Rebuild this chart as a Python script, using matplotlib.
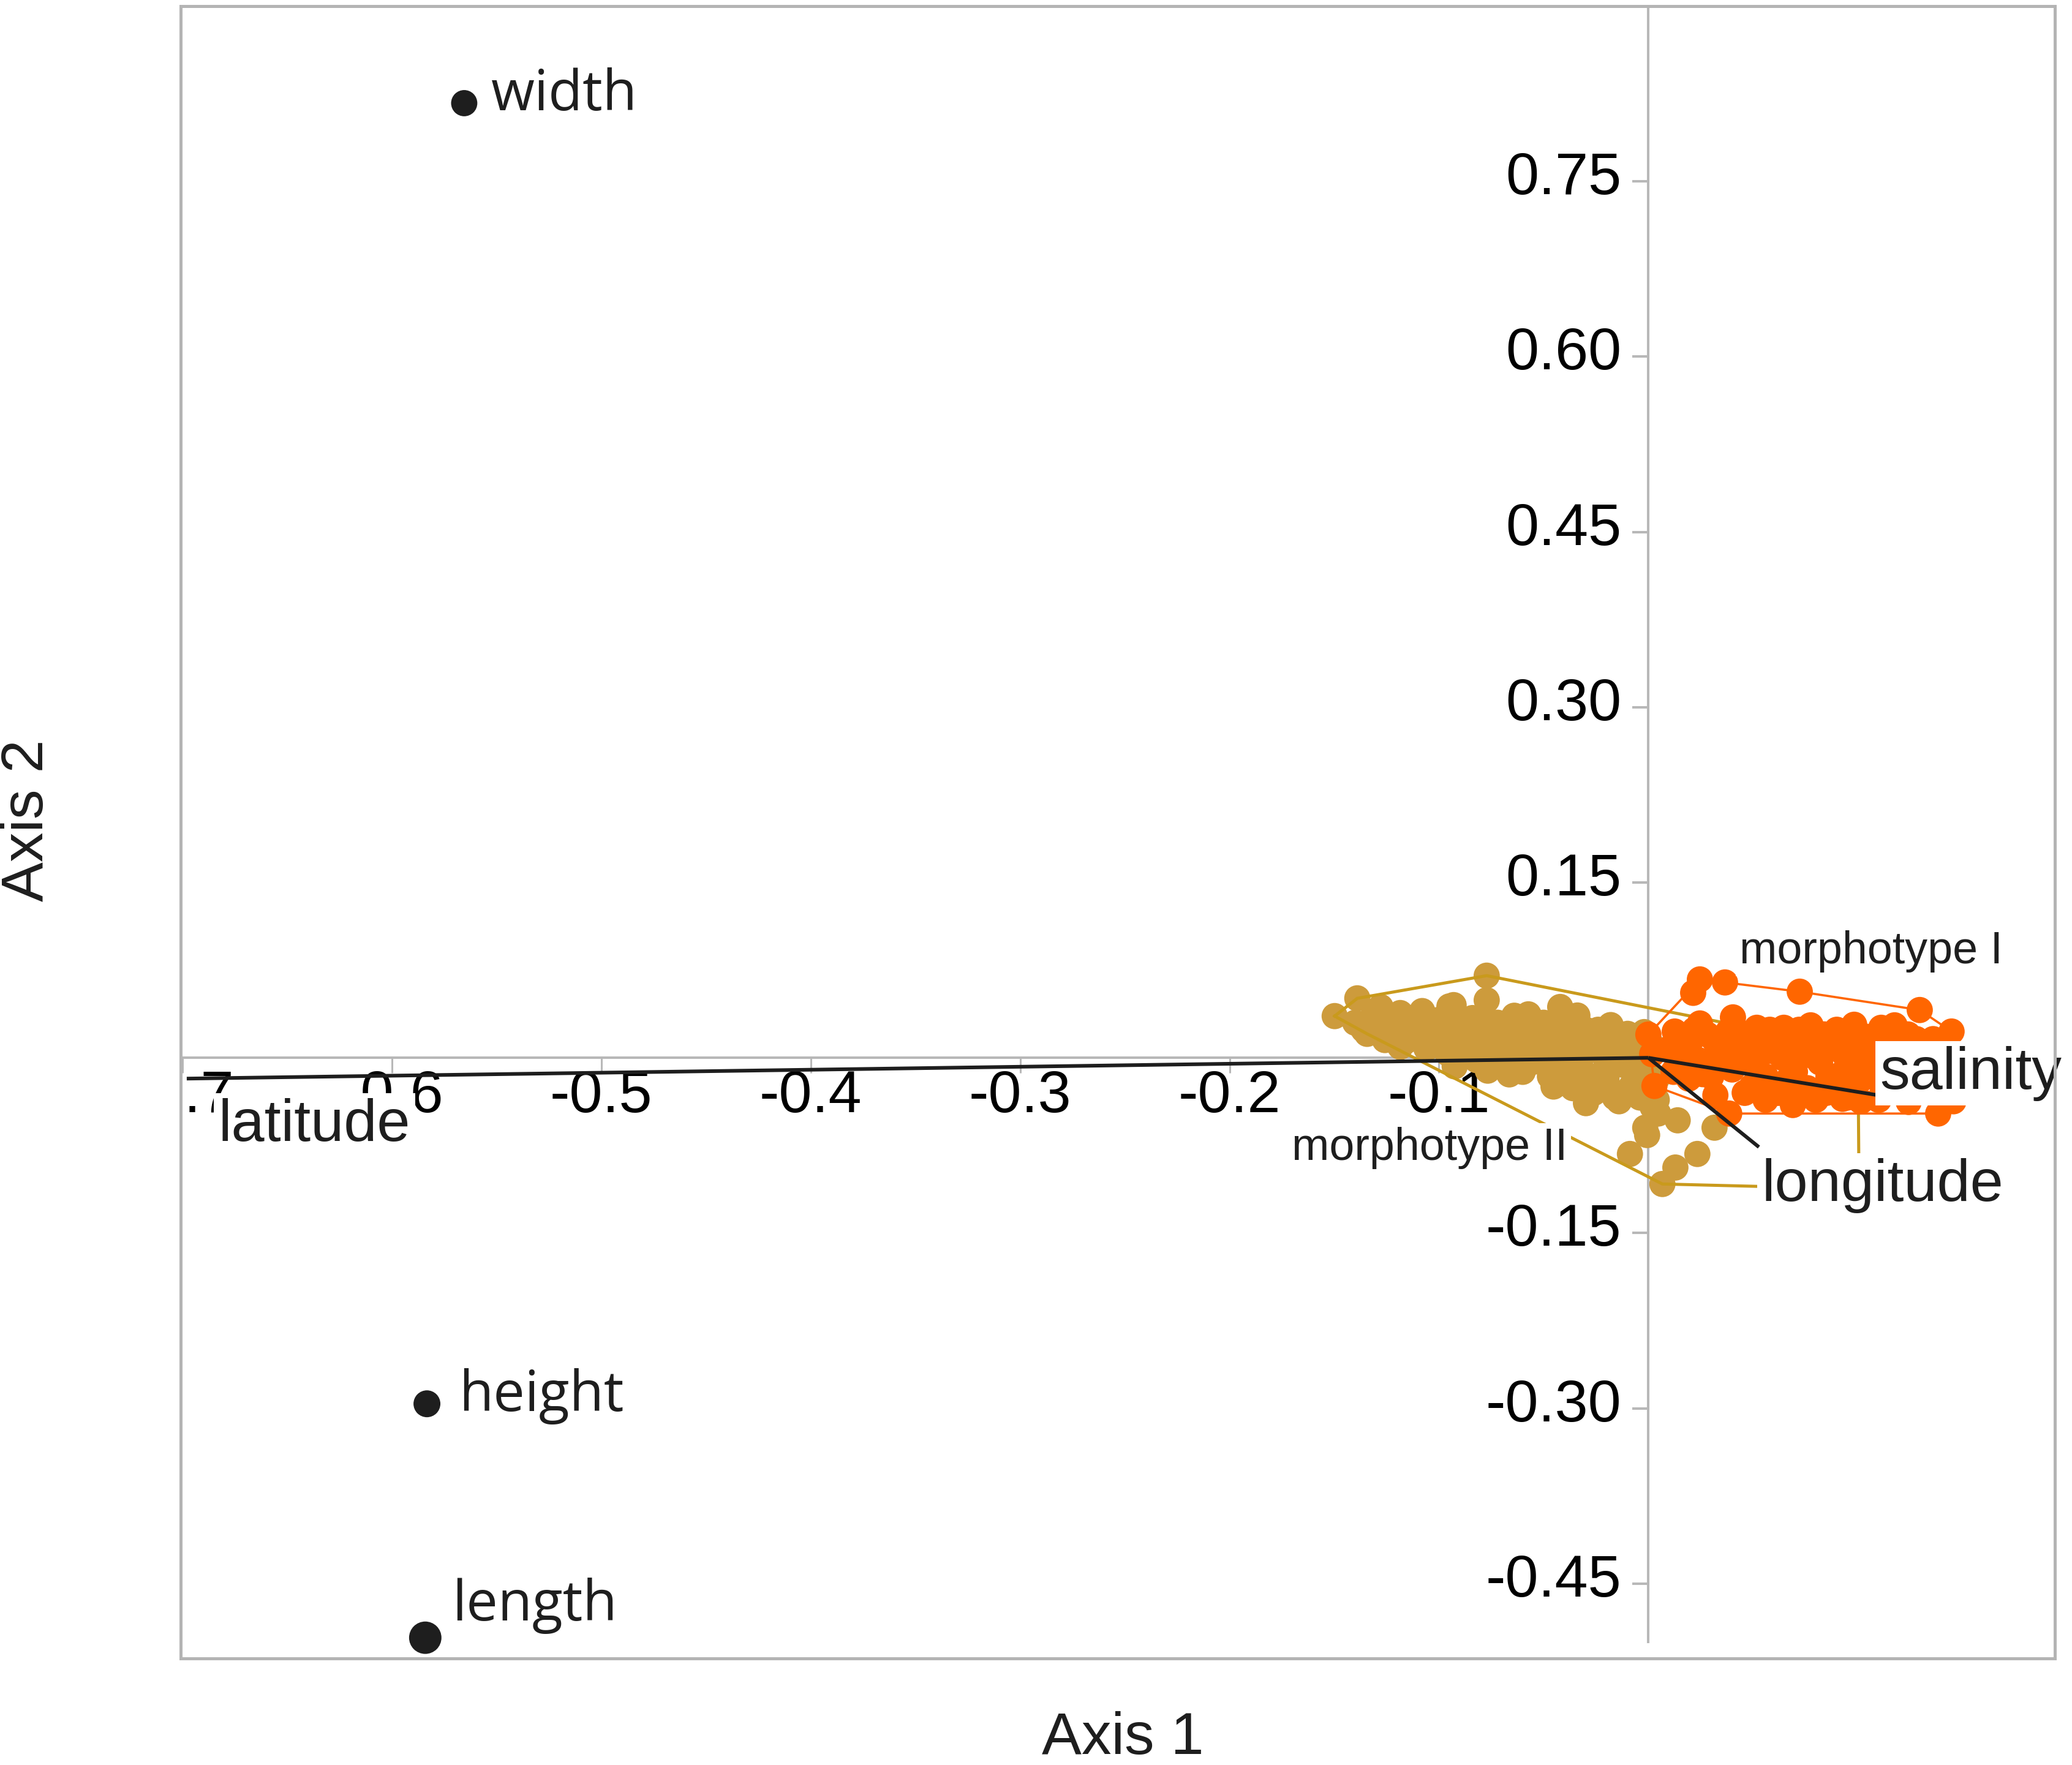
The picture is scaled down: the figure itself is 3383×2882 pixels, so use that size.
import matplotlib.pyplot as plt
import numpy as np
from matplotlib.transforms import ScaledTranslation

plt.rcParams['font.family'] = ['Liberation Sans', 'DejaVu Sans']

# ---------------------------------------------------------------------------
# data (Axis 1, Axis 2)
# ---------------------------------------------------------------------------
morph2_pts = [  # morphotype II (tan)
    (-0.1498, 0.0357), (-0.1390, 0.0509), (-0.0772, 0.0703), (-0.0772, 0.0493),
    (-0.0930, 0.0451), (-0.1279, 0.0435), (-0.1185, 0.0383), (-0.1077, 0.0362),
    (-0.1343, 0.0205), (-0.1258, 0.0152), (-0.1185, 0.0094), (-0.0799, 0.0346),
    (-0.0573, 0.0372), (-0.0421, 0.0435), (-0.0339, 0.0362), (-0.0193, 0.0241),
    (-0.0099, 0.0205), (-0.0925, -0.0073), (-0.0767, -0.0110), (-0.0664, -0.0142),
    (-0.0453, -0.0246), (-0.0298, -0.0388), (-0.0140, -0.0372), (-0.0015, -0.0598),
    (-0.0088, -0.0823), (0.0067, -0.1080), (-0.0006, -0.0661), (0.0140, -0.0535),
    (0.0047, -0.0477), (0.0316, -0.0598), (0.0234, -0.0823), (0.0129, -0.0939),
    (0.1006, -0.1122), (0.1001, 0.0073),
    (-0.140, 0.030), (-0.132, 0.034), (-0.125, 0.028), (-0.118, 0.024),
    (-0.112, 0.030), (-0.110, 0.018), (-0.104, 0.026), (-0.100, 0.012),
    (-0.098, 0.034), (-0.094, 0.022), (-0.090, 0.006), (-0.088, 0.030),
    (-0.085, 0.015), (-0.082, -0.002), (-0.080, 0.024), (-0.076, 0.008),
    (-0.072, 0.030), (-0.070, 0.016), (-0.068, -0.004), (-0.065, 0.026),
    (-0.062, 0.008), (-0.060, -0.012), (-0.058, 0.020), (-0.055, 0.032),
    (-0.052, 0.000), (-0.050, 0.014), (-0.047, -0.016), (-0.045, 0.026),
    (-0.042, 0.006), (-0.040, -0.008), (-0.038, 0.018), (-0.036, -0.026),
    (-0.034, 0.030), (-0.032, 0.000), (-0.030, -0.014), (-0.028, 0.014),
    (-0.026, -0.030), (-0.024, 0.024), (-0.022, 0.004), (-0.020, -0.018),
    (-0.018, 0.012), (-0.016, -0.034), (-0.014, 0.020), (-0.012, -0.006),
    (-0.010, 0.008), (-0.008, -0.024), (-0.006, 0.014), (-0.004, -0.012),
    (-0.002, 0.002), (0.000, -0.030), (0.002, -0.042), (-0.108, 0.040),
    (-0.095, 0.044), (-0.120, 0.036),
    (-0.136, 0.024), (-0.128, 0.022), (-0.122, 0.018), (-0.116, 0.014),
    (-0.106, 0.008), (-0.102, 0.032), (-0.096, 0.004), (-0.092, 0.036),
    (-0.086, 0.004), (-0.084, 0.034), (-0.078, -0.004), (-0.074, 0.018),
    (-0.066, 0.006), (-0.064, 0.036), (-0.060, 0.030), (-0.056, -0.004),
    (-0.054, 0.010), (-0.050, 0.030), (-0.048, -0.008), (-0.044, 0.016),
    (-0.040, 0.030), (-0.038, -0.018), (-0.034, 0.008), (-0.030, 0.024),
    (-0.028, -0.024), (-0.024, 0.012), (-0.020, -0.006), (-0.018, 0.028),
    (-0.012, -0.030), (-0.010, 0.018), (-0.006, 0.000), (-0.004, -0.034),
    (-0.002, 0.022), (0.002, 0.010), (0.004, -0.018), (0.004, -0.036),
]

morph1_pts = [  # morphotype I (orange)
    (0.0246, 0.0671), (0.0366, 0.0645), (0.0214, 0.0556), (0.0723, 0.0566),
    (0.1296, 0.0409), (0.1448, 0.0225), (0.1176, 0.0278), (0.1112, 0.0257),
    (0.0983, 0.0283), (0.0126, 0.0225), (0.0246, 0.0294), (0.0404, 0.0346),
    (0.0518, 0.0257), (0.0647, 0.0257), (0.0775, 0.0278), (0.0863, 0.0189),
    (0.0018, 0.0031), (0.0193, -0.0178), (0.0494, -0.0246), (0.0690, -0.0404),
    (0.0927, -0.0351), (0.1015, -0.0372), (0.1243, -0.0378), (0.1384, -0.0477),
    (0.1457, -0.0372), (0.0386, -0.0477), (0.1498, -0.0073), (0.0029, -0.0241),
    (0.0000, 0.0199),
    (0.010, 0.008), (0.015, -0.006), (0.020, 0.014), (0.024, -0.002),
    (0.028, 0.020), (0.030, -0.016), (0.034, 0.006), (0.038, 0.022),
    (0.040, -0.010), (0.044, 0.012), (0.048, -0.004), (0.050, 0.020),
    (0.054, 0.004), (0.056, -0.016), (0.060, 0.014), (0.062, -0.030),
    (0.064, 0.000), (0.068, 0.020), (0.070, -0.012), (0.074, 0.008),
    (0.076, -0.026), (0.080, 0.016), (0.082, -0.004), (0.085, -0.030),
    (0.088, 0.008), (0.090, 0.024), (0.092, -0.014), (0.096, 0.012),
    (0.098, -0.024), (0.100, 0.000), (0.104, 0.018), (0.106, -0.010),
    (0.110, 0.006), (0.112, -0.026), (0.116, 0.014), (0.118, -0.006),
    (0.122, 0.004), (0.126, -0.016), (0.128, 0.016), (0.132, -0.028),
    (0.134, 0.002), (0.138, -0.010), (0.140, 0.010), (0.144, -0.024),
    (0.146, 0.004),
    (0.012, -0.012), (0.018, 0.004), (0.022, 0.024), (0.026, -0.014),
    (0.032, 0.014), (0.036, -0.004), (0.042, 0.024), (0.046, 0.002),
    (0.052, -0.012), (0.058, 0.006), (0.058, 0.024), (0.066, -0.020),
    (0.072, 0.024), (0.078, 0.002), (0.084, 0.020), (0.086, -0.016),
    (0.094, 0.002), (0.100, 0.020), (0.102, -0.018), (0.108, -0.002),
    (0.114, 0.020), (0.120, -0.018), (0.124, 0.020), (0.130, -0.006),
    (0.136, 0.016), (0.142, -0.002), (0.046, -0.030), (0.056, -0.036),
    (0.080, -0.036), (0.110, -0.036), (0.032, -0.032), (0.070, -0.030),
    (0.095, -0.034),
]

# shell measurements (plotted as points)
var_names = ['width', 'height', 'length']
var_x = [-0.5655, -0.5833, -0.5841]
var_y = [0.8170, -0.2961, -0.4963]
var_size = [950, 1000, 1450]

# environmental vectors
vec_names = ['latitude', 'salinity', 'longitude']
vec_x = [-0.698, 0.1209, 0.0528]
vec_y = [-0.0178, -0.0353, -0.0764]

group_names = ['morphotype I', 'morphotype II']
group_label_x = [0.0436, -0.1703]
group_label_y = [0.0808, -0.0876]

x_ticks = [-0.7, -0.6, -0.5, -0.4, -0.3, -0.2, -0.1]
x_tick_labels = ['-0.7', '-0.6', '-0.5', '-0.4', '-0.3', '-0.2', '-0.1']
y_ticks = [0.75, 0.60, 0.45, 0.30, 0.15, -0.15, -0.30, -0.45]
y_tick_labels = ['0.75', '0.60', '0.45', '0.30', '0.15', '-0.15', '-0.30', '-0.45']


def convex_hull(pts):
    pts = sorted(set(pts))

    def cross(o, a, b):
        return (a[0] - o[0]) * (b[1] - o[1]) - (a[1] - o[1]) * (b[0] - o[0])

    lower, upper = [], []
    for p in pts:
        while len(lower) >= 2 and cross(lower[-2], lower[-1], p) <= 0:
            lower.pop()
        lower.append(p)
    for p in reversed(pts):
        while len(upper) >= 2 and cross(upper[-2], upper[-1], p) <= 0:
            upper.pop()
        upper.append(p)
    h = lower[:-1] + upper[:-1]
    h.append(h[0])
    return np.array(h)


fig = plt.figure(figsize=(33.83, 28.82), dpi=100)
ax = fig.add_axes([0.0871, 0.0604, 0.9045, 0.9361])
ax.set_xlim(-0.701, 0.194)
ax.set_ylim(-0.514, 0.900)
ax.set_xticks([])
ax.set_yticks([])
for sp in ax.spines.values():
    sp.set_color('#b4b4b4')
    sp.set_linewidth(3.6)
    sp.set_zorder(20)


def shift(dx, dy):
    # offset in output pixels (dpi 100)
    return ax.transData + ScaledTranslation(dx / 100, dy / 100, fig.dpi_scale_trans)


grey = '#b8b8b8'
ink = '#1e1e1e'

# zero lines with ticks
ax.axhline(0, color=grey, lw=2.9, zorder=1)
ax.plot([0, 0], [-0.50, 0.90], color=grey, lw=2.9, zorder=1)
ax.plot(x_ticks, np.zeros(len(x_ticks)), ls='none', marker=3, ms=18,
        mew=2.2, color=grey, zorder=1)
ax.plot(np.zeros(len(y_ticks)), y_ticks, ls='none', marker=0, ms=19,
        mew=2.9, color=grey, zorder=1)

for xt, lab in zip(x_ticks, x_tick_labels):
    ax.text(xt, 0, lab, transform=shift(0, -89), ha='center', va='baseline',
            fontsize=70, color='black', clip_on=True, zorder=1.5)
for yt, lab in zip(y_ticks, y_tick_labels):
    ax.text(0, yt, lab, transform=shift(-44, -21), ha='right', va='baseline',
            fontsize=70, color='black', clip_on=True, zorder=1.5)

# groups
tan, tan_line = '#CD9B3C', '#C99A1C'
orange = '#FF6600'
m2 = np.array(morph2_pts)
m1 = np.array(morph1_pts)
ax.scatter(m2[:, 0], m2[:, 1], s=950, color=tan, edgecolors='none', zorder=3)
h2 = convex_hull(morph2_pts)
ax.plot(h2[:, 0], h2[:, 1], color=tan_line, lw=3.6, zorder=3.5)
ax.scatter(m1[:, 0], m1[:, 1], s=950, color=orange, edgecolors='none', zorder=4)
h1 = convex_hull(morph1_pts)
ax.plot(h1[:, 0], h1[:, 1], color=orange, lw=2.6, zorder=4.5)

# environmental vectors
for vx, vy in zip(vec_x, vec_y):
    ax.plot([0, vx], [0, vy], color=ink, lw=4.3, zorder=5, solid_capstyle='butt')

box = dict(facecolor='white', edgecolor='none', boxstyle='square,pad=0.08')
vec_offsets = [(52, -102), (-35, 17), (5, -88)]
for name, vx, vy, (dx, dy) in zip(vec_names, vec_x, vec_y, vec_offsets):
    ax.text(vx, vy, name, transform=shift(dx, dy), ha='left', va='baseline',
            fontsize=70, color=ink, bbox=box, zorder=8)

for name, gx, gy in zip(group_names, group_label_x, group_label_y):
    ax.text(gx, gy, name, ha='left', va='baseline', fontsize=53, color=ink,
            bbox=box, zorder=8)

# measured variables
ax.scatter(var_x, var_y, s=var_size, color=ink, edgecolors='none', zorder=6)
var_offsets = [(44, -12), (52, -12), (44, 28)]
for name, vx, vy, (dx, dy) in zip(var_names, var_x, var_y, var_offsets):
    ax.text(vx, vy, name, transform=shift(dx, dy), ha='left', va='baseline',
            fontsize=66, color=ink, family=['Open Sans', 'DejaVu Sans'], zorder=8)

fig.text(0.5418, 0.0149, 'Axis 1', ha='center', va='center', fontsize=70, color=ink)
fig.text(0.0133, 0.535, 'Axis 2', ha='center', va='center', rotation=90,
         fontsize=70, color=ink)

fig.savefig('out.png', dpi=100, facecolor='white')
